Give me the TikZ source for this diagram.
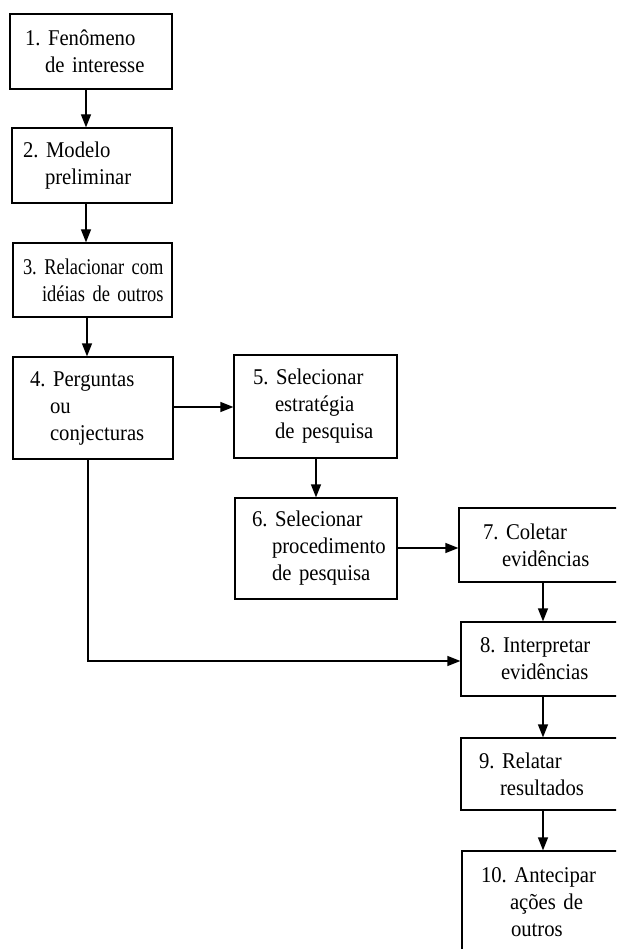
\documentclass[tikz,border=0pt]{standalone}
\usepackage{fontspec}
\setmainfont[FakeStretch=0.92]{Liberation Serif}
\newfontfamily\narrowserif[FakeStretch=0.82]{Liberation Serif}
\usetikzlibrary{arrows.meta}
\frenchspacing
\hyphenpenalty=10000
\begin{document}
\begin{tikzpicture}[x=1pt,y=-1pt,
  stage/.style={draw=black, line width=1.3pt, rectangle, align=left,
    font=\fontsize{22.5}{27}\selectfont, inner sep=0pt},
  flow/.style={line width=1.3pt, -{Triangle[length=13pt,width=10pt]}}]
\useasboundingbox (0,0) rectangle (616,949);
\clip (0,0) rectangle (616,949);

% boxes: centre and size; each line starts after its own indent
\node[stage, minimum width=162pt, minimum height=75pt, text width=162pt] (b1) at (91,51.5)
  {\hspace*{15pt}1. Fenômeno\\\hspace*{35pt}de interesse};
\node[stage, minimum width=160pt, minimum height=75pt, text width=160pt] (b2) at (92,165.5)
  {\hspace*{11pt}2. Modelo\\\hspace*{33pt}preliminar};
\node[stage, minimum width=159pt, minimum height=74pt, text width=159pt,
      font=\narrowserif\fontsize{22.5}{27}\selectfont] (b3) at (92.5,280)
  {\hspace*{10pt}3. Relacionar com\\\hspace*{29pt}idéias de outros};
\node[stage, minimum width=160pt, minimum height=102pt, text width=160pt] (b4) at (93,408)
  {\hspace*{17pt}4. Perguntas\\\hspace*{37pt}ou\\\hspace*{37pt}conjecturas};
\node[stage, minimum width=163pt, minimum height=103pt, text width=163pt] (b5) at (315.5,406.5)
  {\hspace*{19pt}5. Selecionar\\\hspace*{41pt}estratégia\\\hspace*{41pt}de pesquisa};
\node[stage, minimum width=162pt, minimum height=101pt, text width=162pt] (b6) at (316,548.5)
  {\hspace*{17pt}6. Selecionar\\\hspace*{37pt}procedimento\\\hspace*{37pt}de pesquisa};
\node[stage, minimum width=171pt, minimum height=74pt, text width=171pt] (b7) at (544.5,545)
  {\hspace*{24pt}7. Coletar\\\hspace*{43pt}evidências};
\node[stage, minimum width=169pt, minimum height=74pt, text width=169pt] (b8) at (545.5,659)
  {\hspace*{19pt}8. Interpretar\\\hspace*{40pt}evidências};
\node[stage, minimum width=169pt, minimum height=72pt, text width=169pt] (b9) at (545.5,774)
  {\hspace*{18pt}9. Relatar\\\hspace*{39pt}resultados};
\node[stage, minimum width=168pt, minimum height=102pt, text width=168pt] (b10) at (546,902)
  {\hspace*{19pt}10. Antecipar\\\hspace*{48pt}ações de\\\hspace*{49pt}outros};

% connector columns and rows
\coordinate (c1) at (86,0);
\coordinate (c2) at (87,0);
\coordinate (c5) at (316,0);
\coordinate (c7) at (543,0);
\coordinate (r4) at (0,407);
\coordinate (r6) at (0,548);
\coordinate (r8) at (0,661);
\coordinate (bend) at (88,661);

\draw[flow] (b1.south -| c1) -- (b2.north -| c1);
\draw[flow] (b2.south -| c1) -- (b3.north -| c1);
\draw[flow] (b3.south -| c2) -- (b4.north -| c2);
\draw[flow] (b4.east |- r4) -- (b5.west |- r4);
\draw[flow] (b5.south -| c5) -- (b6.north -| c5);
\draw[flow] (b6.east |- r6) -- (b7.west |- r6);
\draw[flow] (b7.south -| c7) -- (b8.north -| c7);
\draw[flow] (b8.south -| c7) -- (b9.north -| c7);
\draw[flow] (b9.south -| c7) -- (b10.north -| c7);
\draw[flow] (b4.south -| bend) -- (bend) -- (b8.west |- r8);
\end{tikzpicture}
\end{document}
